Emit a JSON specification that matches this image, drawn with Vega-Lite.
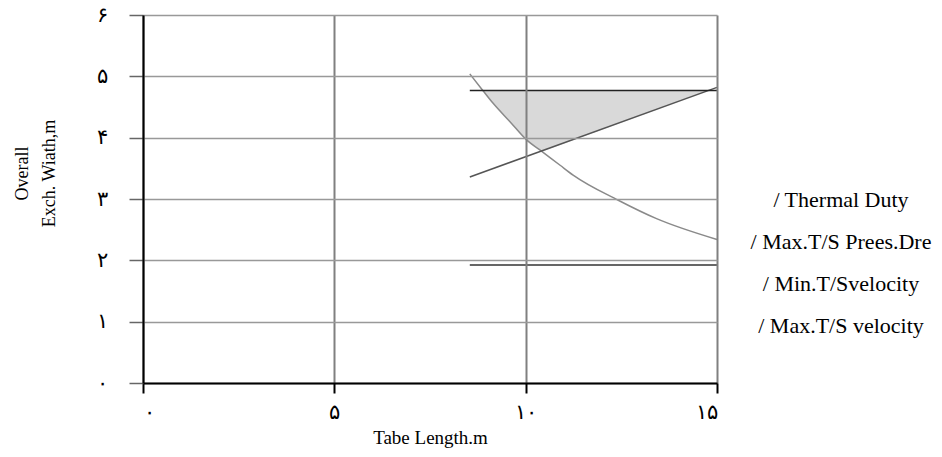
{
  "$schema": "https://vega.github.io/schema/vega-lite/v6.json",
  "width": 574,
  "height": 368,
  "autosize": {"type": "none"},
  "padding": {"left": 143, "top": 15, "right": 225, "bottom": 74},
  "background": "white",
  "config": {"view": {"stroke": null}, "font": "Liberation Serif"},
  "datasets": {
    "lines": [
      {"series": "/ Thermal Duty", "x": 8.54, "y": 5.04},
      {"series": "/ Thermal Duty", "x": 8.88, "y": 4.77},
      {"series": "/ Thermal Duty", "x": 9.15, "y": 4.56},
      {"series": "/ Thermal Duty", "x": 9.59, "y": 4.26},
      {"series": "/ Thermal Duty", "x": 10.03, "y": 3.96},
      {"series": "/ Thermal Duty", "x": 10.37, "y": 3.8},
      {"series": "/ Thermal Duty", "x": 10.9, "y": 3.55},
      {"series": "/ Thermal Duty", "x": 11.24, "y": 3.39},
      {"series": "/ Thermal Duty", "x": 12.42, "y": 2.98},
      {"series": "/ Thermal Duty", "x": 13.42, "y": 2.68},
      {"series": "/ Thermal Duty", "x": 15, "y": 2.34},
      {"series": "/ Max.T/S Prees.Dre", "x": 8.54, "y": 3.36},
      {"series": "/ Max.T/S Prees.Dre", "x": 15, "y": 4.82},
      {"series": "/ Min.T/Svelocity", "x": 8.54, "y": 1.925},
      {"series": "/ Min.T/Svelocity", "x": 15, "y": 1.925},
      {"series": "/ Max.T/S velocity", "x": 8.54, "y": 4.77},
      {"series": "/ Max.T/S velocity", "x": 15, "y": 4.77}
    ],
    "shade": [
      {"x": 8.88, "y": 4.77, "y2": 4.77},
      {"x": 9.15, "y": 4.77, "y2": 4.56},
      {"x": 9.59, "y": 4.77, "y2": 4.26},
      {"x": 10.03, "y": 4.77, "y2": 3.96},
      {"x": 10.37, "y": 4.77, "y2": 3.8},
      {"x": 10.45, "y": 4.77, "y2": 3.78},
      {"x": 14.78, "y": 4.77, "y2": 4.77}
    ]
  },
  "encoding": {
    "x": {
      "field": "x", "type": "quantitative",
      "scale": {"domain": [0, 15], "nice": false, "zero": false},
      "axis": {
        "values": [0, 5, 10, 15],
        "title": "Tabe Length.m",
        "titleFont": "Liberation Serif", "titleFontSize": 19, "titleFontWeight": "normal", "titleColor": "black",
        "titlePadding": 6,
        "labelExpr": "datum.value == 0 ? '۰' : datum.value == 5 ? '۵' : datum.value == 10 ? '۱۰' : '۱۵'",
        "labelFontSize": 21, "labelColor": "black", "labelPadding": 8,
        "tickSize": 10, "tickColor": "black", "tickWidth": 2,
        "domainColor": "black", "domainWidth": 2,
        "grid": true, "gridColor": "#808080", "gridWidth": 2,
        "zindex": 1
      }
    },
    "y": {
      "field": "y", "type": "quantitative",
      "scale": {"domain": [0, 6], "nice": false, "zero": false},
      "axis": {
        "values": [0, 1, 2, 3, 4, 5, 6],
        "title": ["Overall", "Exch. Wiath,m"],
        "titleFont": "Liberation Serif", "titleFontSize": 18, "titleFontWeight": "normal", "titleColor": "black",
        "titleLineHeight": 27,
        "titlePadding": 38,
        "titleY": 158,
        "labelExpr": "['۰','۱','۲','۳','۴','۵','۶'][datum.value]",
        "labelFontSize": 21, "labelColor": "black", "labelPadding": 22,
        "tickSize": 14, "tickColor": "#666666", "tickWidth": 1.5,
        "domainColor": "black", "domainWidth": 2,
        "grid": true, "gridColor": "#999999", "gridWidth": 1.5,
        "zindex": 1
      }
    }
  },
  "layer": [
    {
      "data": {"name": "shade"},
      "mark": {"type": "area", "color": "#d9d9d9", "opacity": 1},
      "encoding": {"y2": {"field": "y2"}}
    },
    {
      "data": {"name": "lines"},
      "mark": {"type": "line", "strokeWidth": 1.5, "interpolate": "monotone"},
      "encoding": {
        "color": {
          "field": "series", "type": "nominal",
          "scale": {
            "domain": ["/ Thermal Duty", "/ Max.T/S Prees.Dre", "/ Min.T/Svelocity", "/ Max.T/S velocity"],
            "range": ["#8a8a8a", "#555555", "#333333", "#222222"]
          },
          "legend": {
            "orient": "none", "legendX": 676, "legendY": 174,
            "title": null,
            "symbolSize": 0, "symbolOpacity": 0, "symbolStrokeWidth": 0,
            "labelFont": "Liberation Serif", "labelFontSize": 22, "labelColor": "black",
            "labelAlign": "center", "labelOffset": 0, "labelLimit": 400,
            "rowPadding": 20
          }
        }
      }
    }
  ]
}
